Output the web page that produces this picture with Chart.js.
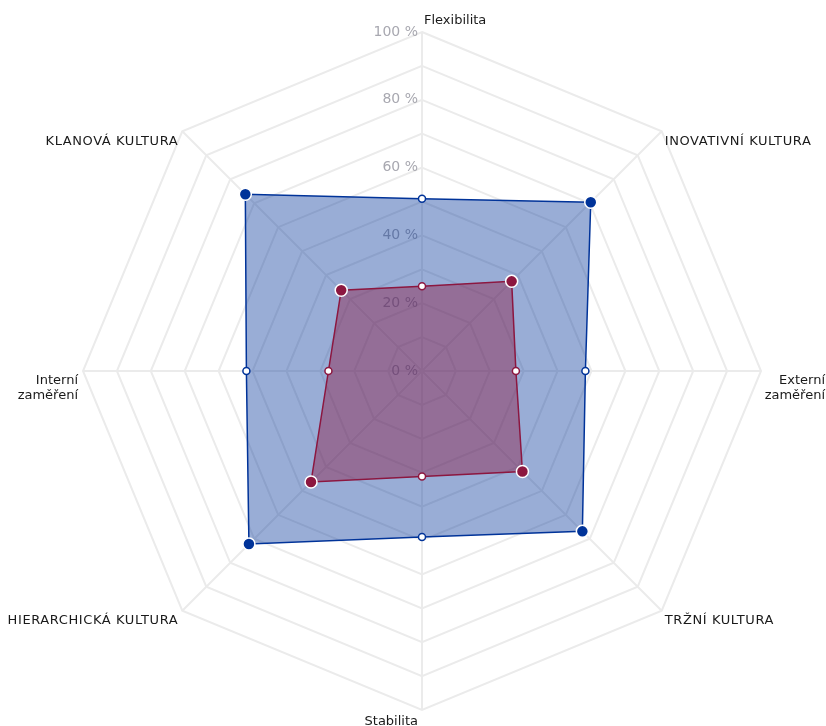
<!DOCTYPE html>
<html lang="cs">
<head>
<meta charset="utf-8">
<title>Kulturní profil</title>
<script src="https://cdn.jsdelivr.net/npm/chart.js@4/dist/chart.umd.min.js"></script>
<style>
  html, body { margin: 0; padding: 0; background: #fff; }
  canvas { display: block; }
</style>
</head>
<body>
<canvas id="cultureChart" width="826" height="726"></canvas>
<script>
// axes, clockwise from the top
const axisLabels = [
  'Flexibilita',
  'INOVATIVNÍ KULTURA',
  ['Externí', 'zaměření'],
  'TRŽNÍ KULTURA',
  'Stabilita',
  'HIERARCHICKÁ KULTURA',
  ['Interní', 'zaměření'],
  'KLANOVÁ KULTURA'
];

const blueValues = [50.8, 70.4, 48.2, 66.9, 49.0, 72.2, 51.8, 73.7];
const redValues = [25.0, 37.4, 27.7, 41.9, 31.1, 46.3, 27.6, 33.7];

const tickValues = [0, 20, 40, 60, 80, 100];

const BLUE = '#003399';
const RED = '#8c1740';

// percent labels sit left of the top axis, under the filled areas
const tickText = {
  id: 'tickText',
  beforeDatasetsDraw(chart) {
    const r = chart.scales.r;
    const ctx = chart.ctx;
    ctx.save();
    ctx.font = '14px "DejaVu Sans", Verdana, sans-serif';
    ctx.fillStyle = '#a8a8b0';
    ctx.textAlign = 'right';
    ctx.textBaseline = 'middle';
    tickValues.forEach(v => {
      const p = r.getPointPositionForValue(0, v);
      ctx.fillText(v + ' %', p.x - 4, p.y);
    });
    ctx.restore();
  }
};

// where each axis name goes relative to the outer vertex
const placement = [
  { dx: 2, dy: -11, align: 'left' },
  { dx: 3, dy: 10, align: 'left' },
  { dx: 64, dy: 10, align: 'right' },
  { dx: 3, dy: 10, align: 'left' },
  { dx: -4, dy: 12, align: 'right' },
  { dx: -4, dy: 10, align: 'right' },
  { dx: -5, dy: 10, align: 'right' },
  { dx: -4, dy: 10, align: 'right' }
];

const axisText = {
  id: 'axisText',
  afterDraw(chart) {
    const r = chart.scales.r;
    const ctx = chart.ctx;
    ctx.save();
    ctx.font = '13px "DejaVu Sans", Verdana, sans-serif';
    ctx.fillStyle = '#1a1a1a';
    ctx.textBaseline = 'middle';
    axisLabels.forEach((label, i) => {
      const p = r.getPointPosition(i, r.drawingArea);
      const pl = placement[i];
      const lines = Array.isArray(label) ? label : [label];
      ctx.textAlign = pl.align;
      // the culture names are set a little wider
      ctx.letterSpacing = i % 2 ? '0.6px' : '0px';
      lines.forEach((line, j) => {
        ctx.fillText(line, p.x + pl.dx, p.y + pl.dy + j * 15);
      });
    });
    ctx.restore();
  }
};

function seriesStyle(color, fill) {
  return {
    borderColor: color,
    backgroundColor: fill,
    borderWidth: 1.5,
    fill: true,
    pointRadius: c => c.dataIndex % 2 ? 6 : 3.5,
    pointBackgroundColor: c => c.dataIndex % 2 ? color : '#fff',
    pointBorderColor: c => c.dataIndex % 2 ? '#fff' : color,
    pointBorderWidth: 1.5
  };
}

new Chart(document.getElementById('cultureChart'), {
  type: 'radar',
  data: {
    labels: axisLabels,
    datasets: [
      Object.assign({ label: 'A', data: blueValues, order: 2 },
        seriesStyle(BLUE, 'rgba(0, 51, 153, 0.4)')),
      Object.assign({ label: 'B', data: redValues, order: 1 },
        seriesStyle(RED, 'rgba(140, 23, 64, 0.42)'))
    ]
  },
  options: {
    responsive: false,
    animation: false,
    events: [],
    layout: { padding: { left: 83, right: 65, top: 32, bottom: 16 } },
    elements: { line: { tension: 0 } },
    plugins: {
      legend: { display: false },
      tooltip: { enabled: false }
    },
    scales: {
      r: {
        min: 0,
        max: 100,
        ticks: { stepSize: 10, display: false },
        pointLabels: { display: false },
        grid: { color: '#ebebeb', lineWidth: 2 },
        angleLines: { color: '#ebebeb', lineWidth: 2 }
      }
    }
  },
  plugins: [tickText, axisText]
});
</script>
</body>
</html>
